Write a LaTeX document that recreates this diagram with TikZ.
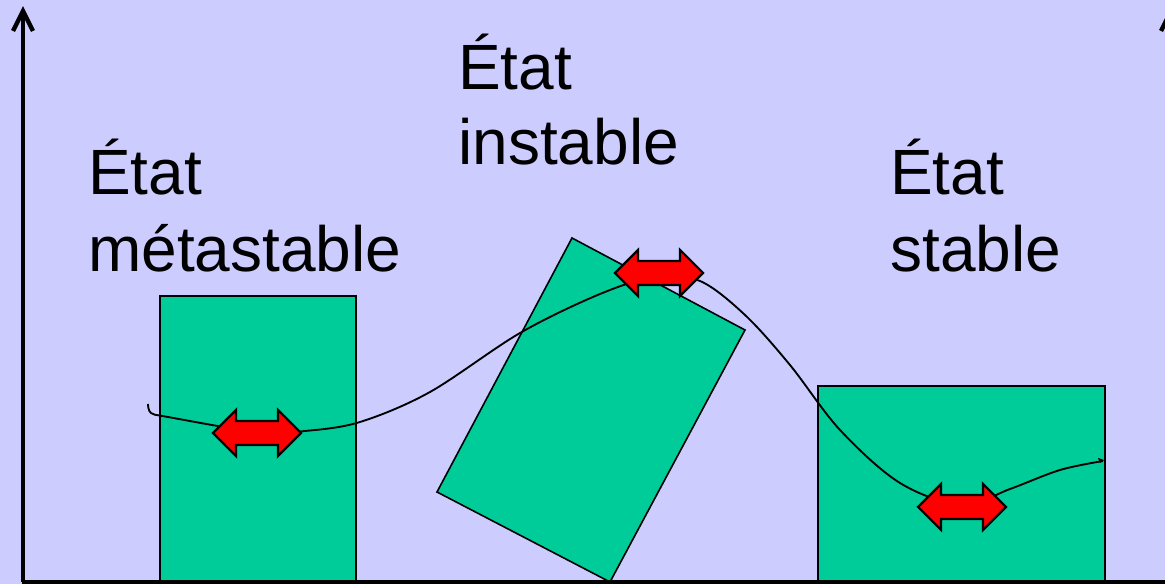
\documentclass[tikz,border=0pt]{standalone}
\usepackage{fontspec}
\setmainfont{Liberation Sans}
\definecolor{bgc}{HTML}{CCCCFF}
\definecolor{boxc}{HTML}{00CC99}
\begin{document}
\begin{tikzpicture}[x=0.75pt,y=-0.75pt,
  axis/.style={line width=3.3pt},
  stateb/.style={fill=boxc,draw=black,line width=1.2pt},
  curvel/.style={line width=1.4pt},
  dbl/.style={fill=red,draw=black,line width=1.6pt,line join=miter},
  lbl/.style={anchor=base west,inner sep=0pt,font=\fontsize{48}{58}\selectfont}]
\useasboundingbox (0,0) rectangle (1165,584);
\fill[bgc] (0,0) rectangle (1165,584);
\clip (0,0) rectangle (1165,584);
% boxes
\draw[stateb] (160,584) -- (160,296) -- (356,296) -- (356,584);
\draw[stateb] (818,584) -- (818,386) -- (1105,386) -- (1105,584);
\draw[stateb] (572,238) -- (745,330) -- (610,582) -- (437,492) -- cycle;
% curve
\coordinate (c0) at (148,404);
\coordinate (c9) at (1103,461);
\draw[curvel] plot[smooth,tension=0.55] coordinates {(c0) (151,413) (168,417) (257,432) (305,431) (360,422) (430,392) (520,333) (600,294) (655,277) (700,281) (745,315) (790,365) (840,430) (900,483) (962,505) (1010,489) (1060,470) (c9)};
\fill (1098,458) -- (1104,460) -- (1100,463) -- cycle;
% axes
\coordinate (o) at (23,582);
\coordinate (ytop) at (23,11);
\coordinate (xend) at (1200,582);
\draw[axis] (o) -- (ytop);
\draw[axis,line join=miter] (13,31) -- (23,11) -- (33,31);
\draw[axis] (21.5,582) -- (xend);
\draw[axis,line join=miter] (1161,31) -- (1171,11) -- (1181,31);
\draw[axis] (1171,11) -- (1171,584);
% double arrows
\foreach \n/\cx/\cy in {a1/257/433, a2/659/273, a3/962/507}{
  \coordinate (\n) at (\cx,\cy);
  \draw[dbl,shift={(\n)}] (-44,0) -- (-21,-23) -- (-21,-12) -- (21,-12) -- (21,-23) -- (44,0) -- (21,23) -- (21,12) -- (-21,12) -- (-21,23) -- cycle;
}
% labels
\node[lbl] (t1a) at (88,195) {État};
\node[lbl] (t1b) at (88,272) {métastable};
\node[lbl] (t2a) at (458,90) {État};
\node[lbl] (t2b) at (458,165) {instable};
\node[lbl] (t3a) at (890,195) {État};
\node[lbl] (t3b) at (890,272) {stable};
\end{tikzpicture}
\end{document}
